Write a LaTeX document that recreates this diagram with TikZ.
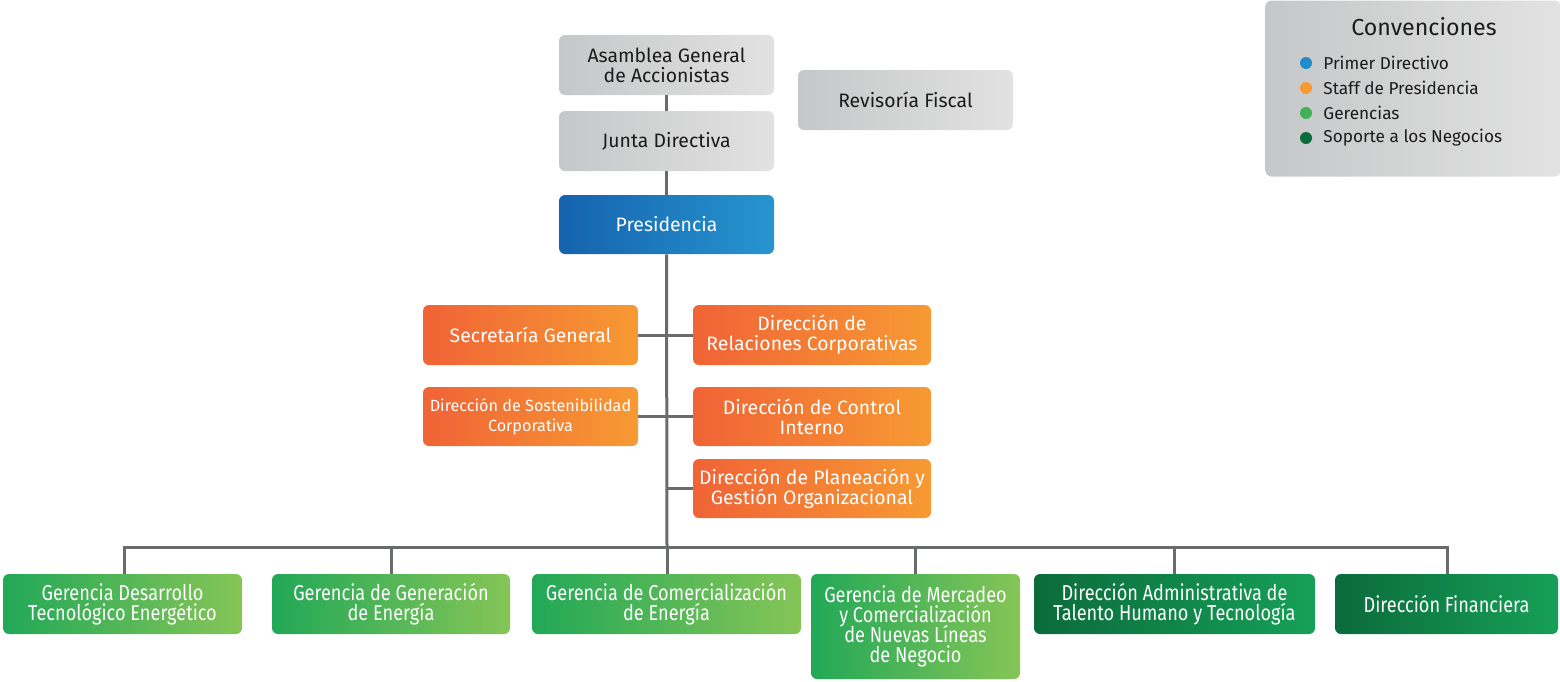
\documentclass[tikz,border=0pt]{standalone}
\usepackage{fontspec}
\setmainfont{Fira Sans}
\newfontfamily\condfont[FakeStretch=0.84]{Fira Sans}
\newcommand\tightls{\lineskiplimit=-20pt\relax}
\definecolor{grayL}{HTML}{C6C7C8}
\definecolor{grayR}{HTML}{E2E2E2}
\definecolor{blueL}{HTML}{1562AE}
\definecolor{blueR}{HTML}{2795CF}
\definecolor{orL}{HTML}{F06336}
\definecolor{orR}{HTML}{F79A33}
\definecolor{grL}{HTML}{22A857}
\definecolor{grR}{HTML}{86C557}
\definecolor{dgL}{HTML}{0B6B3B}
\definecolor{dgR}{HTML}{16A057}
\definecolor{lineC}{HTML}{6A6B6D}
\definecolor{txt}{HTML}{1C1C1C}
\begin{document}
\begin{tikzpicture}[x=0.5pt,y=-0.5pt,
  box/.style={rounded corners=3pt, align=center, inner sep=2pt, font={\fontsize{9.7}{10}\selectfont\tightls}},
  graybox/.style={box, left color=grayL, right color=grayR, text=txt},
  bluebox/.style={box, left color=blueL, right color=blueR, text=white},
  orbox/.style={box, left color=orL, right color=orR, text=white},
  grbox/.style={box, left color=grL, right color=grR, text=white, font={\condfont\fontsize{10.8}{10.1}\selectfont\tightls}},
  dgbox/.style={box, left color=dgL, right color=dgR, text=white, font={\condfont\fontsize{10.8}{10.1}\selectfont\tightls}},
  conn/.style={draw=lineC, line width=1.5pt},
  dot/.style={circle, inner sep=0pt, minimum size=6pt},
  legtxt/.style={anchor=west, inner sep=0pt, text=txt, font=\fontsize{8.6}{9}\selectfont}
]
\useasboundingbox (0,0) rectangle (1560,681);

% top
\node[graybox, minimum width=107.5pt, minimum height=30pt] (asamblea) at (666.5,65) {Asamblea General\\de Accionistas};
\node[graybox, minimum width=107.5pt, minimum height=30pt] (revisoria) at (905.5,100) {Revisoría Fiscal};
\node[graybox, minimum width=107.5pt, minimum height=30pt] (junta) at (666.5,141) {Junta Directiva};
\node[bluebox, minimum width=107.5pt, minimum height=29.5pt] (pres) at (666.5,224.5) {Presidencia};

% staff
\node[orbox, minimum width=107.5pt, minimum height=30pt] (sec) at (530.5,335) {Secretaría General};
\node[orbox, minimum width=119pt, minimum height=30pt] (rel) at (812,335) {Dirección de\\Relaciones Corporativas};
\node[orbox, minimum width=107.5pt, minimum height=29.5pt, font={\fontsize{8.1}{10}\selectfont\tightls}] (sost) at (530.5,416.5) {Dirección de Sostenibilidad\\Corporativa};
\node[orbox, minimum width=119pt, minimum height=29.5pt] (ctrl) at (812,416.5) {Dirección de Control\\Interno};
\node[orbox, minimum width=119pt, minimum height=29.5pt] (plan) at (812,488.5) {Dirección de Planeación y\\Gestión Organizacional};

% bottom
\node[grbox, minimum width=119.5pt, minimum height=30pt] (g1) at (122.5,604) {Gerencia Desarrollo\\Tecnológico Energético};
\node[grbox, minimum width=119pt, minimum height=30pt] (g2) at (391,604) {Gerencia de Generación\\de Energía};
\node[grbox, minimum width=134.5pt, minimum height=30pt] (g3) at (666.5,604) {Gerencia de Comercialización\\de Energía};
\node[grbox, minimum width=104.5pt, minimum height=52.5pt] (g4) at (915.5,626.5) {Gerencia de Mercadeo\\y Comercialización\\de Nuevas Líneas\\de Negocio};
\node[dgbox, minimum width=140.5pt, minimum height=30pt] (g5) at (1174.5,604) {Dirección Administrativa de\\Talento Humano y Tecnología};
\node[dgbox, minimum width=111.5pt, minimum height=30pt] (g6) at (1446.5,604) {Dirección Financiera};

% connectors
\coordinate (busC) at (667,547);
\coordinate (busL) at (124,547);
\coordinate (busR) at (1447,547);
\draw[conn] (asamblea.south) -- (junta.north);
\draw[conn] (junta.south) -- (pres.north);
\draw[conn] (pres.south) -- (busC);
\draw[conn] (sec.east) -- (rel.west);
\draw[conn] (sost.east) -- (ctrl.west);
\draw[conn] (busC |- plan.west) -- (plan.west);
\draw[conn, line cap=rect] (busL) -- (busR);
\draw[conn] (busL) -- (busL |- g1.north);
\draw[conn] (g2.north |- busC) -- (g2.north);
\draw[conn] (busC) -- (busC |- g3.north);
\draw[conn] (g4.north |- busC) -- (g4.north);
\draw[conn] (g5.north |- busC) -- (g5.north);
\draw[conn] (busR) -- (busR |- g6.north);

% legend
\node[box, left color=grayL, right color=grayR, minimum width=147.5pt, minimum height=88pt] (leg) at (1413,88.5) {};
\node[inner sep=0pt, text=txt, font=\fontsize{11.6}{12}\selectfont] (legT) at (1424,27) {Convenciones};
\node[dot, fill=blueR!80!blueL] (d1) at (1306,63) {};
\node[dot, fill=orR] (d2) at (1306,88) {};
\node[dot, fill=grL!70!grR] (d3) at (1306,113) {};
\node[dot, fill=dgL] (d4) at (1306,138) {};
\node[legtxt] (l1) at (1323,63) {Primer Directivo};
\node[legtxt] (l2) at (1323,88) {Staff de Presidencia};
\node[legtxt] (l3) at (1323,113) {Gerencias};
\node[legtxt] (l4) at (1323,138) {Soporte a los Negocios};
\end{tikzpicture}
\end{document}
